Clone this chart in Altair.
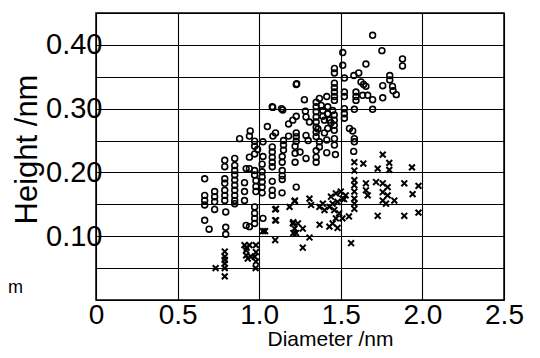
import altair as alt
import pandas as pd

# ---- data ----
circle_x = [1.695, 1.752, 1.878, 1.878, 1.512, 1.512, 1.461, 1.461, 1.654, 1.522, 1.58, 1.61,
            1.227, 1.80, 1.80, 1.757, 1.817, 1.82, 1.84, 1.624, 1.64, 1.654,
            1.461, 1.461, 1.461, 1.461, 1.461, 1.522, 1.522, 1.593, 1.593, 1.593,
            1.634, 1.665, 1.695, 1.757, 1.695, 1.583, 1.522, 1.522, 1.522,
            1.277, 1.369, 1.414, 1.08, 1.137,
            1.349, 1.349, 1.349, 1.349, 1.349, 1.349, 1.349, 1.349,
            1.38, 1.39, 1.39, 1.40, 1.42, 1.42, 1.43, 1.42,
            1.45, 1.46, 1.46, 1.46, 1.46, 1.283, 1.227, 1.206, 1.18, 1.287, 1.308,
            1.553, 1.573, 1.583, 1.583, 1.579, 1.461, 1.461, 1.467, 1.414, 1.414,
            1.369, 1.369, 1.287, 1.227, 1.227, 1.227, 1.18, 1.084,
            1.149, 1.149, 1.149, 1.22, 1.22, 1.22,
            1.141, 1.141, 1.141, 1.141, 1.141,
            1.08, 1.08, 1.08, 1.08, 1.08, 1.08, 1.08, 1.08,
            1.023, 1.023, 1.018, 0.972, 0.972, 0.972, 0.945, 0.94, 0.88,
            0.94, 0.94, 0.972, 0.972, 0.98, 0.98, 0.98,
            1.018, 1.018, 1.018, 1.018, 1.018,
            0.92, 0.91, 0.91, 0.91,
            0.85, 0.85, 0.85, 0.85, 0.85, 0.85, 0.85, 0.85, 0.85, 0.85,
            0.789, 0.789, 0.789, 0.789, 0.789, 0.789, 0.789, 0.795,
            0.795, 0.795, 0.727, 0.727, 0.727, 0.727,
            0.666, 0.666, 0.666, 0.666, 0.666, 0.693,
            1.227, 1.14, 1.287, 1.349, 1.349, 1.349,
            0.972, 0.972, 0.972, 0.972, 1.023, 0.92, 0.94,
            1.083, 1.144, 1.23, 1.40, 1.44, 1.36, 1.30, 1.25, 1.10, 1.05, 0.99]
circle_y = [0.415, 0.391, 0.378, 0.367, 0.388, 0.368, 0.363, 0.356, 0.370, 0.348, 0.352, 0.356,
            0.338, 0.352, 0.345, 0.336, 0.335, 0.328, 0.322, 0.342, 0.338, 0.335,
            0.340, 0.333, 0.326, 0.319, 0.313, 0.326, 0.319, 0.326, 0.319, 0.313,
            0.321, 0.321, 0.314, 0.317, 0.299, 0.299, 0.300, 0.292, 0.285,
            0.314, 0.316, 0.319, 0.303, 0.300,
            0.310, 0.303, 0.295, 0.287, 0.279, 0.271, 0.263, 0.256,
            0.305, 0.297, 0.288, 0.282, 0.303, 0.292, 0.282, 0.269,
            0.297, 0.290, 0.282, 0.274, 0.266, 0.296, 0.288, 0.282, 0.276, 0.287, 0.279,
            0.269, 0.265, 0.253, 0.248, 0.233, 0.253, 0.243, 0.228, 0.251, 0.231,
            0.248, 0.240, 0.258, 0.262, 0.256, 0.249, 0.257, 0.257,
            0.250, 0.243, 0.235, 0.241, 0.230, 0.216,
            0.225, 0.216, 0.203, 0.195, 0.189,
            0.240, 0.232, 0.224, 0.216, 0.209, 0.186, 0.172, 0.164,
            0.248, 0.225, 0.213, 0.249, 0.241, 0.229, 0.265, 0.257, 0.253,
            0.224, 0.206, 0.203, 0.196, 0.187, 0.178, 0.170,
            0.201, 0.193, 0.185, 0.177, 0.168,
            0.206, 0.184, 0.170, 0.156,
            0.222, 0.211, 0.203, 0.196, 0.188, 0.180, 0.172, 0.164, 0.156, 0.151,
            0.219, 0.209, 0.190, 0.183, 0.172, 0.164, 0.156, 0.138,
            0.114, 0.103, 0.170, 0.162, 0.154, 0.142,
            0.190, 0.164, 0.156, 0.149, 0.125, 0.111,
            0.177, 0.168, 0.222, 0.234, 0.224, 0.216,
            0.146, 0.136, 0.128, 0.120, 0.128, 0.117, 0.115,
            0.302, 0.298, 0.339, 0.262, 0.278, 0.268, 0.250, 0.232, 0.262, 0.272, 0.236]

cross_x = [1.757, 1.583, 1.638, 1.583, 1.726, 1.797, 1.797, 1.936,
           1.583, 1.583, 1.583, 1.583, 1.583, 1.583,
           1.654, 1.654, 1.665, 1.716, 1.757, 1.787, 1.757, 1.787, 1.757, 1.828, 1.777,
           1.889, 1.976, 1.94, 1.726, 1.889, 1.976, 1.563,
           1.47, 1.50, 1.53, 1.51, 1.48, 1.45, 1.43, 1.46, 1.49, 1.47, 1.45, 1.43, 1.48, 1.51, 1.55,
           1.39, 1.40, 1.37, 1.308, 1.318, 1.369,
           1.217, 1.186, 1.098, 1.098, 1.023, 1.098, 1.267, 1.308,
           1.206, 1.237, 1.217, 1.267, 1.226,
           0.91, 0.94, 0.92, 0.92, 0.95, 0.972, 0.93, 0.978,
           0.789, 0.789, 0.789, 0.789, 0.789, 0.789, 0.733,
           1.103, 1.103, 1.036, 1.209, 1.209, 1.219, 0.98, 0.98, 0.98, 0.923, 1.44, 1.52]
cross_y = [0.228, 0.216, 0.214, 0.203, 0.206, 0.215, 0.204, 0.208,
           0.188, 0.180, 0.170, 0.159, 0.151, 0.143,
           0.183, 0.172, 0.164, 0.185, 0.183, 0.177, 0.169, 0.164, 0.156, 0.156, 0.151,
           0.183, 0.179, 0.166, 0.132, 0.132, 0.137, 0.089,
           0.167, 0.170, 0.164, 0.159, 0.154, 0.151, 0.146, 0.141, 0.136, 0.128, 0.120, 0.115, 0.113, 0.128, 0.131,
           0.151, 0.141, 0.118, 0.159, 0.149, 0.146,
           0.155, 0.146, 0.142, 0.125, 0.108, 0.094, 0.082, 0.098,
           0.120, 0.120, 0.112, 0.112, 0.105,
           0.086, 0.086, 0.078, 0.070, 0.068, 0.068, 0.065, 0.050,
           0.076, 0.068, 0.063, 0.057, 0.050, 0.037, 0.050,
           0.143, 0.125, 0.108, 0.122, 0.105, 0.156, 0.086, 0.075, 0.060, 0.082, 0.162, 0.158]

x_ticks = [0, 0.5, 1.0, 1.5, 2.0, 2.5]
y_grid = [0, 0.05, 0.10, 0.15, 0.20, 0.25, 0.30, 0.35, 0.40, 0.45]
y_labelled = ["0.10", "0.20", "0.30", "0.40"]
stray_text = ["m"]

df = pd.concat([
    pd.DataFrame({"d": circle_x, "h": circle_y, "kind": "circle"}),
    pd.DataFrame({"d": cross_x, "h": cross_y, "kind": "cross"}),
], ignore_index=True)

FONT = "Liberation Sans"
XSHAPE = "M-1,-1L1,1M-1,1L1,-1"

label_list = "[" + ",".join("'" + s + "'" for s in y_labelled) + "]"

points = alt.Chart(df).mark_point(filled=False, color="black", size=34, opacity=1).encode(
    x=alt.X("d:Q", scale=alt.Scale(domain=[0, 2.5], nice=False, zero=False),
            axis=alt.Axis(values=x_ticks, title="Diameter /nm", grid=True, ticks=False, tickSize=0,
                          domain=False, labelFont=FONT, labelFontSize=28, labelColor="black",
                          labelPadding=1, labelFlush=False,
                          labelExpr="datum.value == 0 ? '0' : format(datum.value, '.1f')",
                          titleFont=FONT, titleFontSize=21, titleFontWeight="normal",
                          titleColor="black",
                          titleX=234, titleY=45, titleBaseline="alphabetic", titleAlign="center")),
    y=alt.Y("h:Q", scale=alt.Scale(domain=[0, 0.45], nice=False, zero=False),
            axis=alt.Axis(values=y_grid, title="Height /nm", grid=True, ticks=False, tickSize=0,
                          domain=False, labelFont=FONT, labelFontSize=29, labelColor="black",
                          labelPadding=-6, labelFlush=False,
                          labelExpr="indexof(" + label_list + ", format(datum.value, '.2f')) >= 0 ? format(datum.value, '.2f') : ''",
                          titleFont=FONT, titleFontSize=31, titleFontWeight="normal", titleColor="black",
                          titleAngle=270, titleX=-60, titleY=136, titleBaseline="alphabetic",
                          titleAlign="center")),
    shape=alt.Shape("kind:N", scale=alt.Scale(domain=["circle", "cross"], range=["circle", XSHAPE]),
                    legend=None),
    strokeWidth=alt.StrokeWidth("kind:N", scale=alt.Scale(domain=["circle", "cross"], range=[1.6, 2.0]),
                                legend=None),
)

stray = alt.Chart(pd.DataFrame({"t": stray_text})).mark_text(
    font=FONT, fontSize=18, align="left", baseline="alphabetic", color="black"
).encode(x=alt.value(-88), y=alt.value(280), text="t:N")

chart = alt.layer(points, stray).properties(
    width=408, height=287,
    autosize=alt.AutoSizeParams(type="none"),
    padding={"left": 88, "top": 5, "right": 28, "bottom": 50},
).configure_view(stroke="black", strokeWidth=1.5).configure_axis(
    gridColor="black", gridOpacity=1, gridWidth=1.1
)

chart.save("out.html", embed_options={"renderer": "svg", "actions": False})
